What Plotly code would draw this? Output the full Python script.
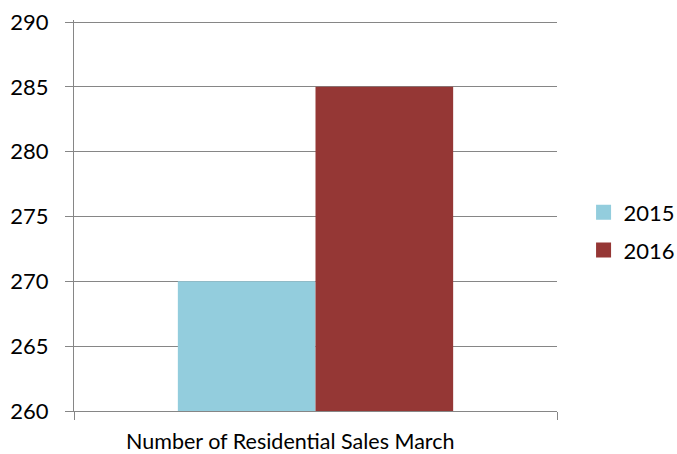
import plotly.graph_objects as go

categories = ["Number of Residential Sales March"]
series_names = ["2015", "2016"]
values_2015 = [270]
values_2016 = [285]
y_ticks = [260, 265, 270, 275, 280, 285, 290]
colors = ["#93CDDD", "#953735"]

fig = go.Figure()
for name, vals, col in zip(series_names, [values_2015, values_2016], colors):
    fig.add_trace(go.Bar(x=categories, y=vals, name=name, showlegend=False,
                         marker=dict(color=col, line=dict(width=0))))
# legend entries with square symbols
for name, col in zip(series_names, colors):
    fig.add_trace(go.Scatter(x=[None], y=[None], mode="markers", name=name, legendgroup=name,
                             marker=dict(symbol="square", size=15, color=col)))

# category label, placed as in the reference (slightly left of the plot centre)
fig.add_annotation(text=categories[0], xref="paper", yref="paper", x=0.4482, y=-0.0767,
                   xanchor="center", yanchor="middle", showarrow=False, borderpad=0,
                   font=dict(family="Lato", size=21.5, color="#000000"))

fig.update_layout(
    width=677, height=454,
    margin=dict(l=74, r=120, t=20, b=43, autoexpand=False),
    paper_bgcolor="white", plot_bgcolor="white",
    barmode="group", bargap=0.43, bargroupgap=0,
    font=dict(family="Lato", size=22, color="#000000"),
    legend=dict(x=1.055, y=0.459, yanchor="middle", xanchor="left",
                font=dict(size=22), tracegroupgap=6, itemwidth=30),
    showlegend=True,
)
fig.update_yaxes(range=[y_ticks[0], y_ticks[-1] + 2 * 30 / 389], tickmode="array", tickvals=y_ticks,
                 showgrid=True, gridcolor="#868686", gridwidth=1,
                 showline=True, linecolor="#868686", linewidth=1,
                 ticks="outside", ticklen=8, tickcolor="#868686", zeroline=False,
                 ticklabelstandoff=12, ticklabeloverflow="allow")
fig.update_xaxes(showline=True, linecolor="#868686", linewidth=1, tickson="boundaries",
                 ticks="outside", ticklen=8, tickcolor="#868686", showgrid=False,
                 showticklabels=False)
fig.write_html("out.html", config={"displayModeBar": False},
               post_script="document.body.style.margin='0';document.body.style.overflow='hidden';")
